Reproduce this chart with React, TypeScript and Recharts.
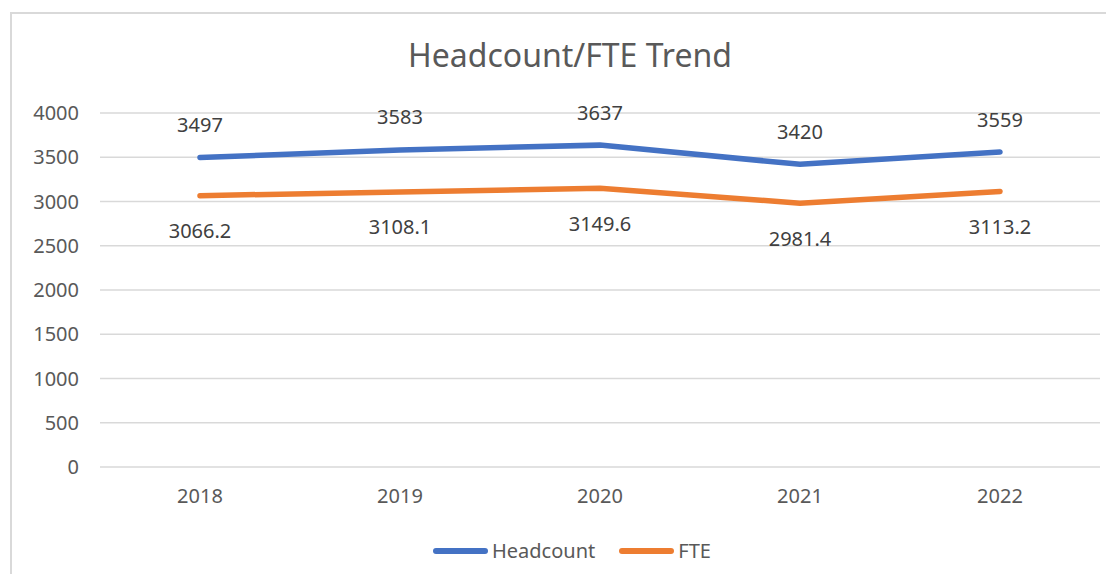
import { LineChart, Line, XAxis, YAxis, CartesianGrid, LabelList } from 'recharts';

const years = ['2018', '2019', '2020', '2021', '2022'];
const headcount = [3497, 3583, 3637, 3420, 3559];
const fte = [3066.2, 3108.1, 3149.6, 2981.4, 3113.2];
const yTicks = [0, 500, 1000, 1500, 2000, 2500, 3000, 3500, 4000];

const SERIES = [
  { key: 'headcount', name: 'Headcount', color: '#4472C4' },
  { key: 'fte', name: 'FTE', color: '#ED7D31' },
];

const FONT = '"Noto Sans", "Open Sans", sans-serif';

const data = years.map((year, i) => ({ year, headcount: headcount[i], fte: fte[i] }));

// data label drawn centered above (dy < 0) or below (dy > 0) the point
function makeLabel(dy: number) {
  return (props: any) => {
    const { x, y, value } = props;
    return (
      <text
        x={x}
        y={y + dy}
        textAnchor="middle"
        dominantBaseline="central"
        fontSize={20}
        fontFamily={FONT}
        fill="#404040"
      >
        {value}
      </text>
    );
  };
}

export default function App() {
  return (
    <div style={{ position: 'relative', margin: -8, width: 1114, height: 582, overflow: 'hidden', background: '#fff' }}>
      {/* chart frame */}
      <div
        style={{
          position: 'absolute', left: 10, top: 12, width: 1130, height: 600,
          border: '2px solid #d9d9d9', boxSizing: 'border-box',
        }}
      />

      <div
        style={{
          position: 'absolute', left: 0, width: 1140, top: 37, textAlign: 'center',
          fontFamily: FONT, fontSize: 32, lineHeight: '36px', color: '#595959',
        }}
      >
        Headcount/FTE Trend
      </div>

      <div style={{ position: 'absolute', left: 0, top: 0 }}>
        <LineChart width={1114} height={582} data={data} margin={{ top: 113, right: 14, left: 0, bottom: 85 }}>
          <CartesianGrid vertical={false} stroke="#d9d9d9" strokeWidth={1.5} />
          <XAxis
            dataKey="year"
            padding={{ left: 100, right: 100 }}
            axisLine={false}
            tickLine={false}
            tickSize={0}
            tickMargin={22}
            height={30}
            tick={{ fontSize: 20, fill: '#595959', fontFamily: FONT }}
          />
          <YAxis
            domain={[0, 4000]}
            ticks={yTicks}
            axisLine={false}
            tickLine={false}
            tickSize={0}
            tickMargin={21}
            width={100}
            tick={{ fontSize: 20, fill: '#595959', fontFamily: FONT }}
          />
          <Line
            dataKey="headcount"
            stroke={SERIES[0].color}
            strokeWidth={5.5}
            strokeLinecap="round"
            dot={false}
            isAnimationActive={false}
          >
            <LabelList dataKey="headcount" content={makeLabel(-33)} />
          </Line>
          <Line
            dataKey="fte"
            stroke={SERIES[1].color}
            strokeWidth={5.5}
            strokeLinecap="round"
            dot={false}
            isAnimationActive={false}
          >
            <LabelList dataKey="fte" content={makeLabel(35)} />
          </Line>
        </LineChart>
      </div>

      {/* legend */}
      <div
        style={{
          position: 'absolute', left: 433, top: 538, display: 'flex', alignItems: 'center',
          fontFamily: FONT, fontSize: 20, color: '#595959', lineHeight: '26px',
        }}
      >
        {SERIES.map((s, i) => (
          <div key={s.key} style={{ display: 'flex', alignItems: 'center', marginRight: i === 0 ? 24 : 0 }}>
            <span style={{ display: 'inline-block', width: 55, height: 6, borderRadius: 3, background: s.color, marginRight: 4 }} />
            {s.name}
          </div>
        ))}
      </div>
    </div>
  );
}
